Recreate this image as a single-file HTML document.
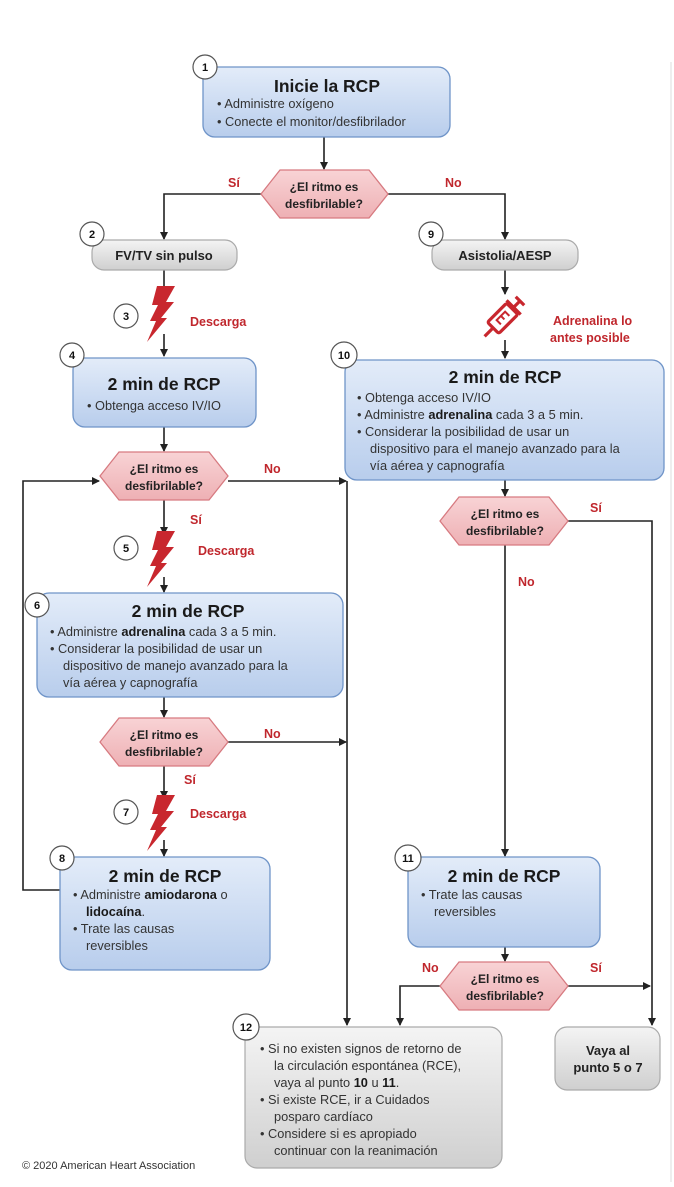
<!DOCTYPE html>
<html><head><meta charset="utf-8"><style>
body{margin:0;background:#fff}
svg text{font-family:"Liberation Sans",sans-serif}
.t{font-size:17.5px;font-weight:bold;fill:#1a1a1a;text-anchor:middle}
.b{font-size:12.8px;fill:#333}
.bb{font-weight:bold;fill:#1a1a1a}
.r{font-size:12.5px;font-weight:bold;fill:#c0272d}
.d{font-size:12px;font-weight:bold;fill:#222;text-anchor:middle}
.n{font-size:11px;font-weight:bold;fill:#111;text-anchor:middle}
.g{font-size:13px;font-weight:bold;fill:#222;text-anchor:middle}
</style></head><body>
<svg width="674" height="1182" viewBox="0 0 674 1182" xmlns="http://www.w3.org/2000/svg">
<defs>
<linearGradient id="bl" x1="0" y1="0" x2="0" y2="1"><stop offset="0" stop-color="#e3ecf9"/><stop offset="1" stop-color="#b8cdec"/></linearGradient>
<linearGradient id="gr" x1="0" y1="0" x2="0" y2="1"><stop offset="0" stop-color="#f4f4f4"/><stop offset="1" stop-color="#cfcfcf"/></linearGradient>
<linearGradient id="pk" x1="0" y1="0" x2="0" y2="1"><stop offset="0" stop-color="#f8d3d5"/><stop offset="1" stop-color="#eeb0b4"/></linearGradient>
<marker id="a" markerWidth="8" markerHeight="8" refX="7" refY="4" orient="auto" markerUnits="userSpaceOnUse"><path d="M0,0 L8,4 L0,8 z" fill="#222"/></marker>
<g id="bolt"><path d="M8,0 L26,0 L17,16 L25,16 L12,32 L18,32 L-2,56 L7,35 L1,35 L9,19 L3,19 z" fill="#c8272e"/></g>
</defs>
<line x1="671" y1="62" x2="671" y2="1182" stroke="#ddd" stroke-width="1"/>
<g stroke="#222" stroke-width="1.6" fill="none">
<line x1="324" y1="137" x2="324" y2="169" marker-end="url(#a)"/>
<polyline points="261,194 164,194 164,239" marker-end="url(#a)"/>
<polyline points="388,194 505,194 505,239" marker-end="url(#a)"/>
<line x1="164" y1="270" x2="164" y2="292"/>
<line x1="164" y1="334" x2="164" y2="356" marker-end="url(#a)"/>
<line x1="505" y1="270" x2="505" y2="294" marker-end="url(#a)"/>
<line x1="505" y1="340" x2="505" y2="358" marker-end="url(#a)"/>
<line x1="164" y1="427" x2="164" y2="451" marker-end="url(#a)"/>
<polyline points="228,481 346,481" marker-end="url(#a)"/>
<line x1="347" y1="481" x2="347" y2="1025" marker-end="url(#a)"/>
<polyline points="60,890 23,890 23,481 99,481" marker-end="url(#a)"/>
<line x1="164" y1="500" x2="164" y2="534" marker-end="url(#a)"/>
<line x1="164" y1="577" x2="164" y2="592" marker-end="url(#a)"/>
<line x1="164" y1="697" x2="164" y2="717" marker-end="url(#a)"/>
<polyline points="228,742 346,742" marker-end="url(#a)"/>
<line x1="164" y1="766" x2="164" y2="798" marker-end="url(#a)"/>
<line x1="164" y1="840" x2="164" y2="856" marker-end="url(#a)"/>
<line x1="505" y1="480" x2="505" y2="496" marker-end="url(#a)"/>
<polyline points="568,521 652,521 652,1025" marker-end="url(#a)"/>
<line x1="505" y1="545" x2="505" y2="856" marker-end="url(#a)"/>
<line x1="505" y1="947" x2="505" y2="961" marker-end="url(#a)"/>
<polyline points="440,986 400,986 400,1025" marker-end="url(#a)"/>
<line x1="568" y1="986" x2="650" y2="986" marker-end="url(#a)"/>
</g>
<g stroke="#6f94c8" stroke-width="1.3" fill="url(#bl)">
<rect x="203" y="67" width="247" height="70" rx="12"/>
<rect x="73" y="358" width="183" height="69" rx="12"/>
<rect x="345" y="360" width="319" height="120" rx="12"/>
<rect x="37" y="593" width="306" height="104" rx="12"/>
<rect x="60" y="857" width="210" height="113" rx="12"/>
<rect x="408" y="857" width="192" height="90" rx="12"/>
</g>
<g stroke="#aaa" stroke-width="1.2" fill="url(#gr)">
<rect x="92" y="240" width="145" height="30" rx="12"/>
<rect x="432" y="240" width="146" height="30" rx="12"/>
<rect x="245" y="1027" width="257" height="141" rx="12"/>
<rect x="555" y="1027" width="105" height="63" rx="12"/>
</g>
<g stroke="#d77a80" stroke-width="1.3" fill="url(#pk)">
<polygon points="261,194 280,170 369,170 388,194 369,218 280,218"/>
<polygon points="100,476 119,452 209,452 228,476 209,500 119,500"/>
<polygon points="100,742 119,718 209,718 228,742 209,766 119,766"/>
<polygon points="440,521 459,497 549,497 568,521 549,545 459,545"/>
<polygon points="440,986 459,962 549,962 568,986 549,1010 459,1010"/>
</g>
<g stroke="#555" stroke-width="1.2" fill="#fff">
<circle cx="205" cy="67" r="12"/><circle cx="92" cy="234" r="12"/><circle cx="126" cy="316" r="12"/>
<circle cx="72" cy="355" r="12"/><circle cx="431" cy="234" r="12"/><circle cx="344" cy="355" r="13"/>
<circle cx="126" cy="548" r="12"/><circle cx="37" cy="605" r="12"/><circle cx="126" cy="812" r="12"/>
<circle cx="62" cy="858" r="12"/><circle cx="408" cy="858" r="13"/><circle cx="246" cy="1027" r="13"/>
</g>
<text class="n" x="205" y="71">1</text><text class="n" x="92" y="238">2</text><text class="n" x="126" y="320">3</text>
<text class="n" x="72" y="359">4</text><text class="n" x="431" y="238">9</text><text class="n" x="344" y="359">10</text>
<text class="n" x="126" y="552">5</text><text class="n" x="37" y="609">6</text><text class="n" x="126" y="816">7</text>
<text class="n" x="62" y="862">8</text><text class="n" x="408" y="862">11</text><text class="n" x="246" y="1031">12</text>
<use href="#bolt" x="149" y="286"/><use href="#bolt" x="149" y="531"/><use href="#bolt" x="149" y="795"/>
<g transform="translate(503,318) rotate(45)" fill="none" stroke="#c8272e" stroke-width="3.2">
<rect x="-8" y="-13" width="16" height="27" rx="2"/><line x1="0" y1="14" x2="0" y2="26"/><line x1="-10" y1="-15" x2="10" y2="-15"/><line x1="0" y1="-15" x2="0" y2="-24"/><line x1="-6" y1="-24" x2="6" y2="-24"/>
<path d="M3,-6 L-3,-6 L-3,6 L3,6 M-3,0 L2,0" stroke-width="2"/>
</g>
<text class="t" x="327" y="92">Inicie la RCP</text>
<text class="b" x="217" y="108">•  Administre oxígeno</text>
<text class="b" x="217" y="126">•  Conecte el monitor/desfibrilador</text>
<text class="r" x="228" y="187">Sí</text><text class="r" x="445" y="187">No</text>
<text class="d" x="324" y="191">¿El ritmo es</text><text class="d" x="324" y="208">desfibrilable?</text>
<text class="g" x="164" y="260">FV/TV sin pulso</text>
<text class="g" x="505" y="260">Asistolia/AESP</text>
<text class="r" x="190" y="326">Descarga</text>
<text class="r" x="553" y="325">Adrenalina lo</text><text class="r" x="550" y="342">antes posible</text>
<text class="t" x="164" y="390">2 min de RCP</text>
<text class="b" x="87" y="410">•  Obtenga acceso IV/IO</text>
<text class="t" x="505" y="383">2 min de RCP</text>
<text class="b" x="357" y="402">•  Obtenga acceso IV/IO</text>
<text class="b" x="357" y="419">•  Administre <tspan class="bb">adrenalina</tspan> cada 3 a 5 min.</text>
<text class="b" x="357" y="436">•  Considerar la posibilidad de usar un</text>
<text class="b" x="370" y="453">dispositivo para el manejo avanzado para la</text>
<text class="b" x="370" y="470">vía aérea y capnografía</text>
<text class="d" x="164" y="473">¿El ritmo es</text><text class="d" x="164" y="490">desfibrilable?</text>
<text class="r" x="264" y="473">No</text>
<text class="r" x="190" y="524">Sí</text>
<text class="r" x="198" y="555">Descarga</text>
<text class="t" x="188" y="617">2 min de RCP</text>
<text class="b" x="50" y="636">•  Administre <tspan class="bb">adrenalina</tspan> cada 3 a 5 min.</text>
<text class="b" x="50" y="653">•  Considerar la posibilidad de usar un</text>
<text class="b" x="63" y="670">dispositivo de manejo avanzado para la</text>
<text class="b" x="63" y="687">vía aérea y capnografía</text>
<text class="d" x="164" y="739">¿El ritmo es</text><text class="d" x="164" y="756">desfibrilable?</text>
<text class="r" x="264" y="738">No</text>
<text class="r" x="184" y="784">Sí</text>
<text class="r" x="190" y="818">Descarga</text>
<text class="t" x="165" y="882">2 min de RCP</text>
<text class="b" x="73" y="899">•  Administre <tspan class="bb">amiodarona</tspan> o</text>
<text class="b" x="86" y="916"><tspan class="bb">lidocaína</tspan>.</text>
<text class="b" x="73" y="933">•  Trate las causas</text>
<text class="b" x="86" y="950">reversibles</text>
<text class="d" x="505" y="518">¿El ritmo es</text><text class="d" x="505" y="535">desfibrilable?</text>
<text class="r" x="590" y="512">Sí</text>
<text class="r" x="518" y="586">No</text>
<text class="t" x="504" y="882">2 min de RCP</text>
<text class="b" x="421" y="899">•  Trate las causas</text>
<text class="b" x="434" y="916">reversibles</text>
<text class="d" x="505" y="983">¿El ritmo es</text><text class="d" x="505" y="1000">desfibrilable?</text>
<text class="r" x="422" y="972">No</text><text class="r" x="590" y="972">Sí</text>
<text class="b" x="260" y="1053">•  Si no existen signos de retorno de</text>
<text class="b" x="274" y="1070">la circulación espontánea (RCE),</text>
<text class="b" x="274" y="1087">vaya al punto <tspan class="bb">10</tspan> u <tspan class="bb">11</tspan>.</text>
<text class="b" x="260" y="1104">•  Si existe RCE, ir a Cuidados</text>
<text class="b" x="274" y="1121">posparo cardíaco</text>
<text class="b" x="260" y="1138">•  Considere si es apropiado</text>
<text class="b" x="274" y="1155">continuar con la reanimación</text>
<text class="g" x="608" y="1055">Vaya al</text><text class="g" x="608" y="1072">punto 5 o 7</text>
<text x="22" y="1169" style="font-size:11px;fill:#333">© 2020 American Heart Association</text>
</svg>
</body></html>
